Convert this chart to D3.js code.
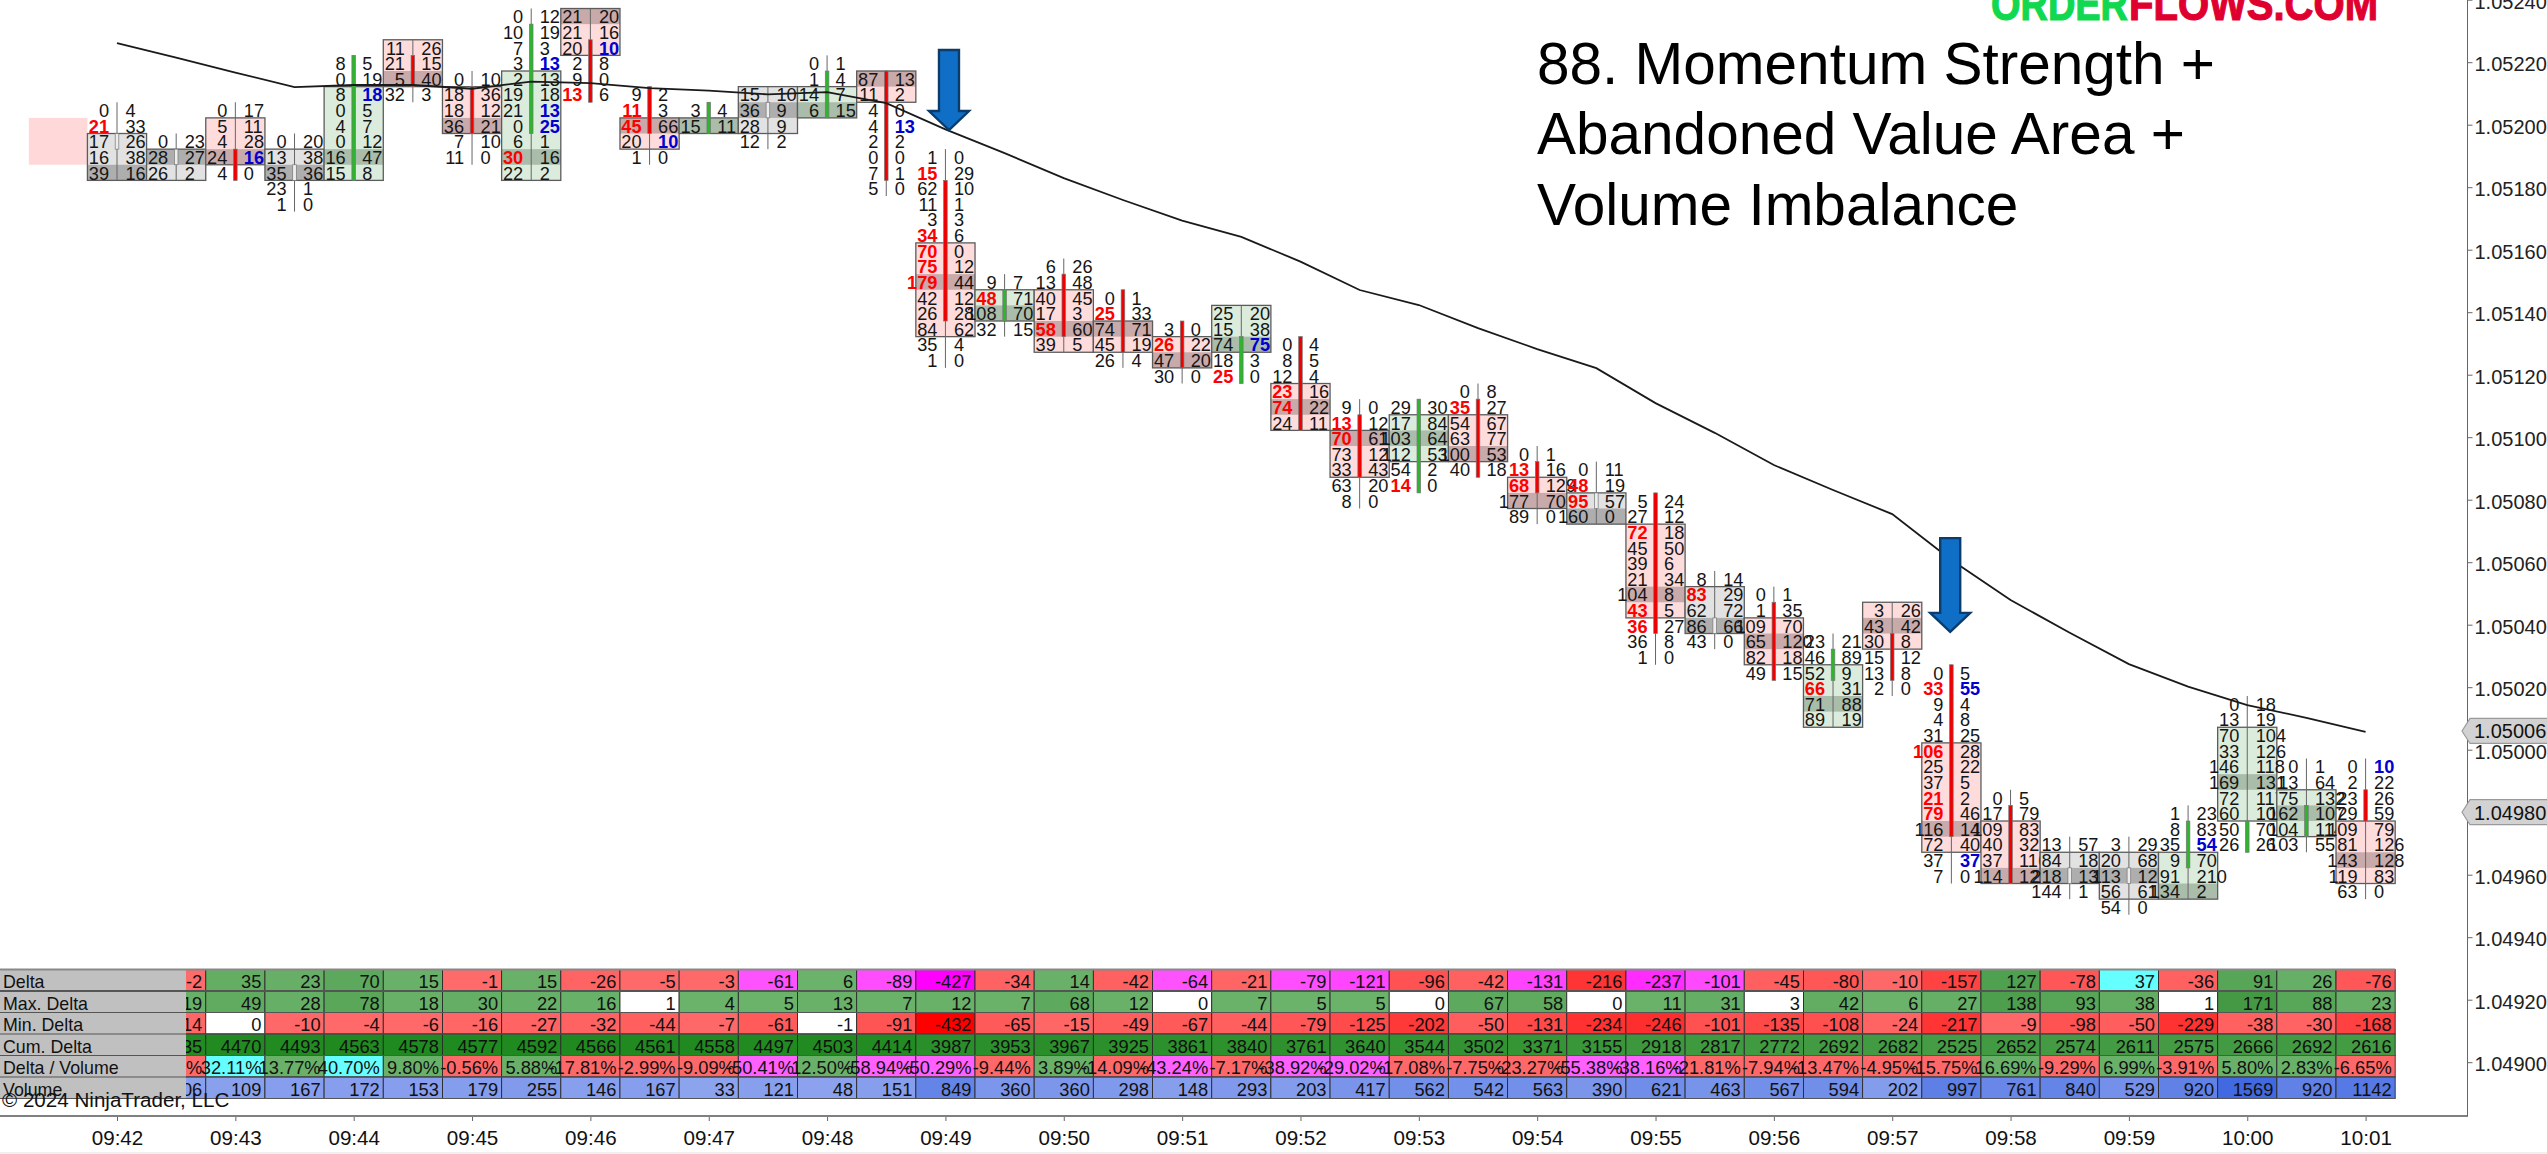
<!DOCTYPE html>
<html>
<head>
<meta charset="UTF-8">
<title>88. Momentum Strength + Abandoned Value Area + Volume Imbalance</title>
<script src="https://d3js.org/d3.v7.min.js"></script>
<style>
  html, body { margin: 0; padding: 0; background: #fff; overflow: hidden; }
  svg { display: block; font-family: "Liberation Sans", Arial, sans-serif; }
</style>
</head>
<body>
<div id="container"></div>
<script>
// footprint bars, one entry per 30 second bar, rows run from the top price down
var topPrice = [1.05205,1.05195,1.05205,1.05195,1.0522,1.05225,1.05215,1.05235,1.05235,1.0521,
  1.05205,1.0521,1.0522,1.05215,1.0519,1.0515,1.05155,1.05145,1.05135,1.0514,
  1.0513,1.0511,1.0511,1.05115,1.05095,1.0509,1.0508,1.05055,1.0505,1.05035,
  1.05045,1.05025,1.04985,1.0497,1.0497,1.0498,1.05015,1.04995,1.04995];
var bidVol = [
  [0,21,17,16,39],[0,28,26],[0,5,4,24,4],[0,13,35,23,1],[8,0,8,0,4,0,16,15],
  [11,21,5,32],[0,18,18,36,7,11],[0,10,7,3,2,19,21,0,6,30,22],[21,21,20,2,9,13],[9,11,45,20,1],
  [3,15],[15,36,28,12],[0,1,14,6],[87,11,4,4,2,0,7,5],[1,15,62,11,3,34,70,75,179,42,26,84,35,1],
  [9,48,108,32],[6,13,40,17,58,39],[0,25,74,45,26],[3,26,47,30],[25,15,74,18,25],
  [0,8,12,23,74,24],[9,13,70,73,33,63,8],[29,17,103,112,54,14],[0,35,54,63,100,40],[0,13,68,177,89],
  [0,48,95,160],[5,27,72,45,39,21,104,43,36,36,1],[8,83,62,86,43],[0,1,109,65,82,49],[23,46,52,66,71,89],
  [3,43,30,15,13,2],[0,33,9,4,31,106,25,37,21,79,116,72,37,7],[0,17,109,40,37,114],[13,84,218,144],[3,20,113,56,54],
  [1,8,35,9,91,134],[0,13,70,33,146,169,72,60,50,26],[0,13,75,162,104,103],[0,2,23,29,109,81,143,119,63]
];
var askVol = [
  [4,33,26,38,16],[23,27,2],[17,11,28,16,0],[20,38,36,1,0],[5,19,18,5,7,12,47,8],
  [26,15,40,3],[10,36,12,21,10,0],[12,19,3,13,13,18,13,25,1,16,2],[20,16,10,8,0,6],[2,3,66,10,0],
  [4,11],[10,9,9,2],[1,4,7,15],[13,2,0,13,2,0,1,0],[0,29,10,1,3,6,0,12,44,12,28,62,4,0],
  [7,71,70,15],[26,48,45,3,60,5],[1,33,71,19,4],[0,22,20,0],[20,38,75,3,0],
  [4,5,4,16,22,11],[0,12,61,12,43,20,0],[30,84,64,53,2,0],[8,27,67,77,53,18],[1,16,129,70,0],
  [11,19,57,0],[24,12,18,50,6,34,8,5,27,8,0],[14,29,72,66,0],[1,35,70,120,18,15],[21,89,9,31,88,19],
  [26,42,8,12,8,0],[5,55,4,8,25,28,22,5,2,46,146,40,37,0],[5,79,83,32,116,129],[57,18,137,1],[29,68,129,61,0],
  [23,83,54,70,210,2],[18,19,104,126,118,131,117,106,70,26],[1,64,132,107,114,55],[10,22,26,59,79,126,128,83,0]
];
// value area rows [first,last], point of control row, candle body rows [first,last]
var valueArea = [[2,4],[1,2],[1,3],[1,2],[2,7],[0,2],[1,3],[4,10],[0,2],[2,3],
  [1,1],[0,2],[2,3],[0,1],[6,11],[1,2],[2,5],[2,3],[1,2],[0,2],
  [3,5],[2,4],[1,3],[2,4],[2,3],[2,3],[2,7],[1,3],[2,4],[2,5],
  [0,2],[5,11],[2,5],[1,2],[1,3],[3,5],[2,7],[2,4],[4,7]];
var pocRow = [4,1,3,2,6,2,3,9,0,2,1,1,3,0,8,2,4,2,2,2,4,2,2,4,3,3,6,3,3,4,1,10,5,2,2,5,5,3,6];
var bodyRows = [[2,2],[1,1],[3,4],[2,2],[0,7],[1,2],[1,3],[1,7],[2,5],[0,2],
  [0,1],[1,1],[1,3],[0,6],[2,10],[1,2],[1,4],[0,3],[0,2],[2,4],
  [0,5],[1,4],[0,5],[1,5],[1,2],[2,2],[0,8],[3,3],[1,5],[1,2],
  [2,4],[0,10],[1,5],[2,2],[2,2],[1,3],[8,9],[3,4],[2,3]];
var direction = ["flat","flat","down","flat","up","down","down","up","down","down",
  "up","flat","up","down","down","up","down","down","down","up",
  "down","down","up","down","down","flat","down","flat","down","up",
  "down","down","down","flat","flat","up","up","up","down"];
// rows printed bold, sellers in red, buyers in blue
var hotBid = [[1],[],[],[],[],[],[],[9],[5],[1,2],[],[],[],[],[1,5,6,7,8],[1],[4],[1],[1],[4],
  [3,4],[1,2],[5],[1],[1,2],[1,2],[2,7,8],[1],[],[3],[],[1,5,8,9],[],[],[],[],[],[],[]];
var hotAsk = [[],[],[3],[],[2],[],[],[3,6,7],[2],[3],[],[],[],[3],[],[],[],[],[],[2],
  [],[],[],[],[],[],[],[],[],[],[],[1,12],[],[],[],[2],[],[],[0]];

var vwap = [1.052261,1.052215,1.052167,1.05212,1.052127,1.052127,1.052115,1.052138,1.052133,1.052117,
  1.052109,1.052097,1.052104,1.052069,1.051985,1.051909,1.051829,1.051759,1.051693,1.051641,
  1.051562,1.051471,1.051423,1.051349,1.051282,1.051221,1.051109,1.051014,1.050911,1.050831,
  1.050754,1.050607,1.050479,1.050374,1.050274,1.050202,1.050143,1.050102,1.050057];

// table rows start at bar 1, bar 0 sits behind the label column
var delta = [-2,35,23,70,15,-1,15,-26,-5,-3,-61,6,-89,-427,-34,14,-42,-64,-21,-79,
  -121,-96,-42,-131,-216,-237,-101,-45,-80,-10,-157,127,-78,37,-36,91,26,-76];
var maxDelta = [19,49,28,78,18,30,22,16,1,4,5,13,7,12,7,68,12,0,7,5,
  5,0,67,58,0,11,31,3,42,6,27,138,93,38,1,171,88,23];
var minDelta = [-14,0,-10,-4,-6,-16,-27,-32,-44,-7,-61,-1,-91,-432,-65,-15,-49,-67,-44,-79,
  -125,-202,-50,-131,-234,-246,-101,-135,-108,-24,-217,-9,-98,-50,-229,-38,-30,-168];
var cumDelta = [4435,4470,4493,4563,4578,4577,4592,4566,4561,4558,4497,4503,4414,3987,3953,3967,3925,3861,3840,3761,
  3640,3544,3502,3371,3155,2918,2817,2772,2692,2682,2525,2652,2574,2611,2575,2666,2692,2616];
var deltaVolume = [-1.89,32.11,13.77,40.70,9.80,-0.56,5.88,-17.81,-2.99,-9.09,-50.41,12.50,-58.94,-50.29,-9.44,3.89,-14.09,-43.24,-7.17,-38.92,
  -29.02,-17.08,-7.75,-23.27,-55.38,-38.16,-21.81,-7.94,-13.47,-4.95,-15.75,16.69,-9.29,6.99,-3.91,5.80,2.83,-6.65];
var volume = [106,109,167,172,153,179,255,146,167,33,121,48,151,849,360,360,298,148,293,203,
  417,562,542,563,390,621,463,567,594,202,997,761,840,529,920,1569,920,1142];
var magentaDeltaBars = [11,13,14,18,20,21,24,26,27];
var cyanDeltaBars = [34];
var rowNames = ["Delta","Max. Delta","Min. Delta","Cum. Delta","Delta / Volume","Volume"];

var timeLabels = ["09:42","09:43","09:44","09:45","09:46","09:47","09:48","09:49","09:50","09:51",
  "09:52","09:53","09:54","09:55","09:56","09:57","09:58","09:59","10:00","10:01"];
var priceTicks = [1.0524,1.0522,1.052,1.0518,1.0516,1.0514,1.0512,1.051,1.0508,1.0506,1.0504,1.0502,1.05,
  1.0498,1.0496,1.0494,1.0492,1.049];
var priceTags = [1.05006,1.0498];
var titleLines = ["88. Momentum Strength +","Abandoned Value Area +","Volume Imbalance"];
// arrows: bar position, tip price, tail price
var arrowBar = [14.06,30.98];
var arrowTip = [1.051983,1.050377];
var arrowTail = [1.052239,1.050677];

var width = 2547, height = 1154, tick = 0.00005;
var nf5 = d3.format(".5f");

var x = d3.scaleLinear().domain([0,38]).range([117,2365.6]);
var y = d3.scaleLinear().domain([1.0524,1.049]).range([-0.3,1062.2]);
var barW = x(1) - x(0);
var rowH = y(1.0524 - tick) - y(1.0524);
function rowY(i, r) { return y(topPrice[i] - r * tick) + 1; }

var svg = d3.select("#container").append("svg")
  .attr("width", width).attr("height", height);

svg.append("rect").attr("x",0).attr("y",1152).attr("width",width).attr("height",2).attr("fill","#f0f0f0");

// pink zone left of the first bar
svg.append("rect")
  .attr("x", x(-1.49)).attr("width", x(-0.5) - x(-1.49))
  .attr("y", y(1.052025) + 1).attr("height", y(1.051875) - y(1.052025))
  .attr("fill", "#ffd9d9");

// logo, cut by the top of the picture
var logo = svg.append("g").attr("font-family", "'Liberation Sans Narrow','Liberation Sans',sans-serif")
  .attr("font-weight", "bold").attr("font-size", 46).attr("stroke-width", 1.2);
logo.append("text").attr("x",1991).attr("y",20).attr("textLength",137).attr("lengthAdjust","spacingAndGlyphs")
  .attr("fill","#10d850").attr("stroke","#10d850").text("ORDER");
logo.append("text").attr("x",2129).attr("y",20).attr("textLength",249).attr("lengthAdjust","spacingAndGlyphs")
  .attr("fill","#e00030").attr("stroke","#e00030").text("FLOWS.COM");

// title
svg.append("g").selectAll("text").data(titleLines).enter().append("text")
  .attr("x", 1537)
  .attr("y", function(d,i){ return 84 + i * 70.3; })
  .attr("font-size", 58.5)
  .attr("fill", "#000")
  .text(function(d){ return d; });

var toneFill = {
  down: {light:"#ffdcdc", dark:"#c9aaaa", body:"#f00000"},
  up:   {light:"#dcecdc", dark:"#aabcaa", body:"#2db52d"},
  flat: {light:"#e2e2e2", dark:"#aeaeae", body:"#ededed"}
};

// footprint bars
var bars = svg.append("g").selectAll("g").data(d3.range(bidVol.length)).enter().append("g")
  .attr("transform", function(i){ return "translate(" + x(i) + ",0)"; });

bars.append("rect")
  .attr("x", -barW/2).attr("width", barW)
  .attr("y", function(i){ return rowY(i, valueArea[i][0]) - rowH/2; })
  .attr("height", function(i){ return (valueArea[i][1] - valueArea[i][0] + 1) * rowH; })
  .attr("fill", function(i){ return toneFill[direction[i]].light; });

bars.append("rect")
  .attr("x", -barW/2).attr("width", barW)
  .attr("y", function(i){ return rowY(i, pocRow[i]) - rowH/2; })
  .attr("height", rowH)
  .attr("fill", function(i){ return toneFill[direction[i]].dark; });

bars.append("rect")
  .attr("x", -barW/2).attr("width", barW)
  .attr("y", function(i){ return rowY(i, valueArea[i][0]) - rowH/2; })
  .attr("height", function(i){ return (valueArea[i][1] - valueArea[i][0] + 1) * rowH; })
  .attr("fill", "none").attr("stroke", "#5c5c5c").attr("stroke-width", 1.3);

// wick
bars.append("line")
  .attr("y1", function(i){ return rowY(i, 0) - rowH/2; })
  .attr("y2", function(i){ return rowY(i, bidVol[i].length - 1) + rowH/2; })
  .attr("stroke", "#666").attr("stroke-width", 1);

// candle body
bars.append("rect")
  .attr("x", -1.8).attr("width", 3.6)
  .attr("y", function(i){ return rowY(i, bodyRows[i][0]) - rowH/2; })
  .attr("height", function(i){ return (bodyRows[i][1] - bodyRows[i][0] + 1) * rowH; })
  .attr("fill", function(i){ return toneFill[direction[i]].body; })
  .attr("stroke", "#777").attr("stroke-width", 0.7);

// volume numbers
bars.each(function(i){
  var g = d3.select(this);
  var rows = d3.range(bidVol[i].length);
  g.selectAll("text.bid").data(rows).enter().append("text")
    .attr("class","bid").attr("x",-8).attr("y",function(r){ return rowY(i,r) + 7; })
    .attr("text-anchor","end").attr("font-size",18.2)
    .attr("font-weight",function(r){ return hotBid[i].indexOf(r) >= 0 ? "bold" : "normal"; })
    .attr("fill",function(r){ return hotBid[i].indexOf(r) >= 0 ? "#ff0000" : "#151515"; })
    .text(function(r){ return bidVol[i][r]; });
  g.selectAll("text.ask").data(rows).enter().append("text")
    .attr("class","ask").attr("x",8.5).attr("y",function(r){ return rowY(i,r) + 7; })
    .attr("font-size",18.2)
    .attr("font-weight",function(r){ return hotAsk[i].indexOf(r) >= 0 ? "bold" : "normal"; })
    .attr("fill",function(r){ return hotAsk[i].indexOf(r) >= 0 ? "#0000d0" : "#151515"; })
    .text(function(r){ return askVol[i][r]; });
});

// vwap style line
var line = d3.line().x(function(d,i){ return x(i); }).y(function(d){ return y(d); });
svg.append("path").datum(vwap)
  .attr("d", line).attr("fill","none").attr("stroke","#1a1a1a").attr("stroke-width",1.8);

// arrows
svg.append("g").selectAll("path").data(arrowBar).enter().append("path")
  .attr("d", function(b,i){
    var cx = x(b), tip = y(arrowTip[i]), tail = y(arrowTail[i]), sh = tip - 19;
    return d3.line()([[cx-10,tail],[cx+10,tail],[cx+10,sh],[cx+20,sh],[cx,tip],[cx-20,sh],[cx-10,sh]]) + "Z";
  })
  .attr("fill","#0f6fc6").attr("stroke","#0b3c6c").attr("stroke-width",2.4);

// table, fills first, the wide numbers may run over the cell on their left
var band = d3.scaleBand().domain(rowNames).range([969.5,1098.5]);
var posDelta = d3.scaleLinear().domain([0,150]).range(["#6cb36c","#4a9c4a"]);
var redScale = d3.scaleLinear().domain([0,432]).range(["#ff6a6a","#ff0000"]);
var magentaScale = d3.scaleLinear().domain([0,427]).range(["#ff60ff","#ff00ff"]);
var cumScale = d3.scaleLinear().domain([2500,4600]).range(["#459c45","#1f8a1f"]);
var volScale = d3.scaleLinear().domain([0,1569]).range(["#8ea4ee","#4169e1"]);

var tableRows = [
  {name:"Delta", values:delta, text:String, fill:function(v,b){
    if (cyanDeltaBars.indexOf(b) >= 0) return "#66ffff";
    if (magentaDeltaBars.indexOf(b) >= 0) return magentaScale(-v);
    return v >= 0 ? posDelta(v) : redScale(-v);
  }},
  {name:"Max. Delta", values:maxDelta, text:String, fill:function(v){ return v <= 3 ? "#fff" : posDelta(v); }},
  {name:"Min. Delta", values:minDelta, text:String, fill:function(v){ return v >= -1 ? "#fff" : redScale(-v); }},
  {name:"Cum. Delta", values:cumDelta, text:String, fill:function(v){ return cumScale(v); }},
  {name:"Delta / Volume", values:deltaVolume, text:function(v){ return v.toFixed(2) + "%"; }, fill:function(v){
    if (v >= 30) return "#66ffff";
    if (v <= -29) return "#ff60ff";
    return v >= 0 ? "#69b169" : "#ff6868";
  }},
  {name:"Volume", values:volume, text:String, fill:function(v){ return volScale(v); }}
];

var table = svg.append("g");
tableRows.forEach(function(row){
  var cells = table.append("g").selectAll("g").data(d3.range(row.values.length)).enter().append("g")
    .attr("transform", function(k){ return "translate(" + x(k+1) + "," + band(row.name) + ")"; });
  cells.append("rect")
    .attr("x", -barW/2).attr("width", barW).attr("height", band.bandwidth())
    .attr("fill", function(k){ return row.fill(row.values[k], k+1); })
    .attr("stroke","#2a2a2a").attr("stroke-width",0.9);
});
tableRows.forEach(function(row){
  table.append("g").selectAll("text").data(d3.range(row.values.length)).enter().append("text")
    .attr("x", function(k){ return x(k+1) + barW/2 - 3.5; })
    .attr("y", band(row.name) + band.bandwidth()/2 + 7.8)
    .attr("text-anchor","end").attr("font-size",18.3).attr("fill","#111")
    .text(function(k){ return row.text(row.values[k]); });
});

// label column
table.append("rect").attr("x",0).attr("y",969.5).attr("width",186).attr("height",129).attr("fill","#c0c0c0");
table.append("g").selectAll("text").data(rowNames).enter().append("text")
  .attr("x",3).attr("y",function(d){ return band(d) + band.bandwidth()/2 + 7.8; })
  .attr("font-size",17.8).attr("fill","#111").text(function(d){ return d; });
table.append("g").selectAll("line").data(rowNames.concat(["end"])).enter().append("line")
  .attr("x1",0).attr("x2",x(38) + barW/2)
  .attr("y1",function(d){ return d === "end" ? 1098.5 : band(d); })
  .attr("y2",function(d){ return d === "end" ? 1098.5 : band(d); })
  .attr("stroke",function(d,i){ return i === 0 ? "#888" : "#555"; })
  .attr("stroke-width",function(d,i){ return i < 2 ? 1.8 : 1; });

svg.append("text").attr("x",2).attr("y",1106.5).attr("font-size",20.6).attr("fill","#111")
  .text("\u00a9 2024 NinjaTrader, LLC");

// axes
var xAxis = d3.axisBottom(x)
  .tickValues(timeLabels.map(function(d,i){ return i * 2; }))
  .tickFormat(function(d){ return timeLabels[d / 2]; })
  .tickSize(5).tickPadding(9).tickSizeOuter(0);
var xg = svg.append("g").attr("transform","translate(0,1116)").call(xAxis);
xg.select(".domain").remove();
xg.selectAll("line").attr("stroke","#666");
xg.selectAll("text").attr("font-size",20.6).attr("font-family","'Liberation Sans'").attr("fill","#111");
svg.append("line").attr("x1",0).attr("x2",2468).attr("y1",1116).attr("y2",1116)
  .attr("stroke","#808080").attr("stroke-width",2);

var yAxis = d3.axisRight(y)
  .tickValues(priceTicks).tickFormat(nf5)
  .tickSize(5).tickPadding(2).tickSizeOuter(0);
var yg = svg.append("g").attr("transform","translate(2467.5,0)").call(yAxis);
yg.select(".domain").remove();
yg.selectAll("line").attr("stroke","#666");
yg.selectAll("text").attr("font-size",20).attr("font-family","'Liberation Sans'").attr("fill","#222").attr("dy","8.4px");
svg.append("line").attr("x1",2467.5).attr("x2",2467.5).attr("y1",0).attr("y2",1116).attr("stroke","#666").attr("stroke-width",1);

// last price tags on the axis
var tags = svg.append("g").selectAll("g").data(priceTags).enter().append("g")
  .attr("transform",function(d){ return "translate(2462," + y(d) + ")"; });
tags.append("path")
  .attr("d",d3.line()([[0,0],[8,-12.5],[90,-12.5],[90,12.5],[8,12.5]]) + "Z")
  .attr("fill","#d2d2d2").attr("stroke","#9a9a9a").attr("stroke-width",1.2);
tags.append("text").attr("x",12).attr("y",7.5).attr("font-size",20).attr("fill","#111")
  .text(function(d){ return nf5(d); });
</script>
</body>
</html>
